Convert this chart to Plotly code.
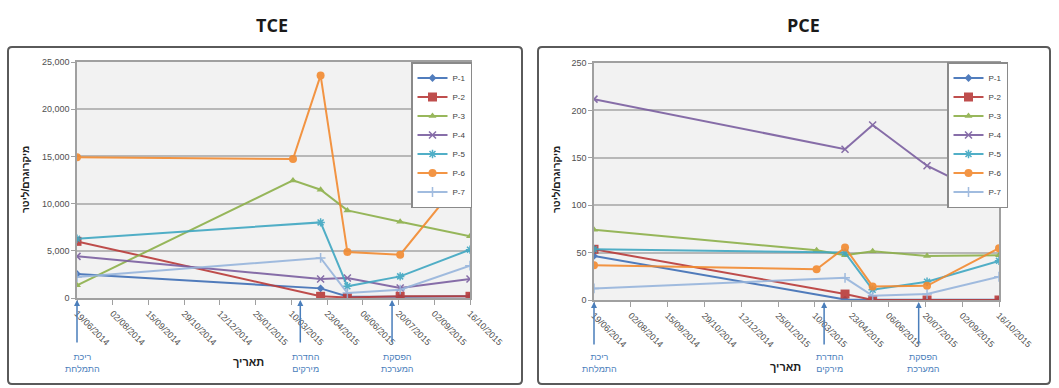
import plotly.graph_objects as go

# ---------------- data ----------------
dates = ["2014-06-19", "2015-03-12", "2015-04-15", "2015-05-18", "2015-07-22", "2015-10-16"]
series_names = ["P-1", "P-2", "P-3", "P-4", "P-5", "P-6", "P-7"]

tce_p1 = [2540, None, 1020, 150, 120, 180]
tce_p2 = [6000, None, 180, 60, 180, 180]
tce_p3 = [1340, 12460, 11470, 9280, 8080, 6530]
tce_p4 = [4410, None, 2010, 2120, 1060, 2010]
tce_p5 = [6280, None, 8010, 1240, 2290, 5120]
tce_p6 = [14900, 14720, 23580, 4870, 4590, 13700]
tce_p7 = [2220, None, 4240, 530, 880, 3420]

pce_p1 = [46.5, None, 0.5, 0.3, 0.3, 0.3]
pce_p2 = [53.5, None, 6.3, 0, 0, 0]
pce_p3 = [74.1, 52.5, 47.2, 51.4, 46.5, 47.2]
pce_p4 = [211.9, None, 159.1, 184.6, 141.6, 104.2]
pce_p5 = [53.5, None, 50.0, 10.8, 19.2, 41.3]
pce_p6 = [36.7, 32.5, 55.3, 14.3, 15.0, 54.6]
pce_p7 = [12.2, None, 23.4, 4.5, 6.3, 24.5]

tce_values = [tce_p1, tce_p2, tce_p3, tce_p4, tce_p5, tce_p6, tce_p7]
pce_values = [pce_p1, pce_p2, pce_p3, pce_p4, pce_p5, pce_p6, pce_p7]

event_dates = ["2014-06-19", "2015-03-21", "2015-07-12"]
event_labels = ["ריכת<br>התמלחת", "החדרת<br>מירקים", "הפסקת<br>המערכת"]

chart_titles = ["TCE", "PCE"]
y_title = "מיקרוגרם/ליטר"
x_title = "תאריך"

# ---------------- styles ----------------
colors = ["#3f6fb6", "#b93b3a", "#8db04a", "#7b5fa0", "#3fa7c2", "#f28a30", "#97b5dc"]
symbols = ["diamond", "square", "triangle-up", "x-thin", "asterisk-open", "circle", "cross-thin"]
msizes = [6, 9, 7, 7, 7, 8, 7]

W, H = 1059, 388
fig = go.Figure()

panels = [
    dict(vals=tce_values, xa="x", ya="y", legend="legend"),
    dict(vals=pce_values, xa="x2", ya="y2", legend="legend2"),
]

for p in panels:
    for i, name in enumerate(series_names):
        sym = symbols[i]
        marker = dict(symbol=sym, size=msizes[i], color=colors[i])
        if sym.endswith("-thin") or sym.endswith("-open"):
            marker["line"] = dict(color=colors[i], width=1.5)
        fig.add_trace(go.Scatter(
            x=dates, y=p["vals"][i], name=name, mode="lines+markers",
            connectgaps=True, xaxis=p["xa"], yaxis=p["ya"], legend=p["legend"],
            line=dict(color=colors[i], width=2), marker=marker, opacity=0.9,
        ))

def px_x(v):
    return v / W

def px_y(v):
    return 1 - v / H

DAY = 86400000
common_x = dict(
    type="date", range=["2014-06-19", "2015-10-16"], tick0="2014-06-19", dtick=44 * DAY,
    tickformat="%d/%m/%Y", tickangle=45, tickfont=dict(size=9, color="#505050", family="Liberation Sans"),
    ticks="outside", ticklen=5, tickcolor="#a0a0a0", showgrid=False, automargin=False,
    showline=True, linecolor="#a0a0a0", linewidth=1.5, mirror=True, zeroline=False,
)
common_y = dict(
    showgrid=True, gridcolor="#b8b8b8", gridwidth=1.5, ticks="outside", ticklen=4,
    tickcolor="#a0a0a0", tickfont=dict(size=9, color="#505050", family="Liberation Sans"),
    showline=True, linecolor="#a0a0a0", linewidth=1.5, mirror=True, zeroline=False, automargin=False,
)

legend_style = dict(xanchor="left", yanchor="top", bgcolor="white", bordercolor="#8a8a8a",
                    borderwidth=1.5, font=dict(size=8, color="#404040", family="Liberation Sans"),
                    itemwidth=30, tracegroupgap=0)

fig.update_layout(
    width=W, height=H, margin=dict(l=0, r=0, t=0, b=0, pad=0, autoexpand=False),
    paper_bgcolor="white", plot_bgcolor="#f2f2f2", showlegend=True,
    xaxis=dict(common_x, domain=[px_x(77), px_x(470)], anchor="y"),
    yaxis=dict(common_y, domain=[px_y(298), px_y(62)], range=[0, 25000], dtick=5000,
               tickformat=",", anchor="x"),
    xaxis2=dict(common_x, domain=[px_x(594), px_x(999)], anchor="y2"),
    yaxis2=dict(common_y, domain=[px_y(300), px_y(63)], range=[0, 250], dtick=50, anchor="x2"),
    legend=dict(legend_style, x=px_x(411), y=px_y(62)),
    legend2=dict(legend_style, x=px_x(947), y=px_y(62)),
)

# panel borders (rounded rectangles)
def rrect(x0, y0, x1, y1, r=4):
    X0, X1 = px_x(x0), px_x(x1)
    Y0, Y1 = px_y(y0), px_y(y1)
    rx, ry = r / W, r / H
    return (f"M {X0+rx},{Y0} L {X1-rx},{Y0} Q {X1},{Y0} {X1},{Y0-ry} "
            f"L {X1},{Y1+ry} Q {X1},{Y1} {X1-rx},{Y1} L {X0+rx},{Y1} "
            f"Q {X0},{Y1} {X0},{Y1+ry} L {X0},{Y0-ry} Q {X0},{Y0} {X0+rx},{Y0} Z")

for (x0, x1) in [(8, 522), (538, 1050)]:
    fig.add_shape(type="path", path=rrect(x0, 47, x1, 384), xref="paper", yref="paper",
                  line=dict(color="#5a5a5a", width=2), fillcolor="rgba(0,0,0,0)")

# titles
for cx, t in [(272, chart_titles[0]), (803, chart_titles[1])]:
    fig.add_annotation(x=px_x(cx), y=px_y(25), xref="paper", yref="paper", text=f"<b>{t}</b>",
                       showarrow=False, font=dict(size=18, color="#1a1a1a", family="Open Sans"),
                       xanchor="center", yanchor="middle")

# y titles
for cx in [25, 556]:
    fig.add_annotation(x=px_x(cx), y=px_y(180), xref="paper", yref="paper", text=f"<b>{y_title}</b>",
                       showarrow=False, textangle=-90, font=dict(size=10, color="#202020", family="Liberation Sans"),
                       xanchor="center", yanchor="middle")

# x titles
for cx, cy in [(248, 362), (785, 367)]:
    fig.add_annotation(x=px_x(cx), y=px_y(cy), xref="paper", yref="paper", text=f"<b>{x_title}</b>",
                       showarrow=False, font=dict(size=11, color="#202020", family="Liberation Sans"),
                       xanchor="center", yanchor="middle")

# event arrows and labels
for xa, axis_bottom in [("x", 300), ("x2", 302)]:
    for d, lab in zip(event_dates, event_labels):
        fig.add_annotation(x=d, y=px_y(axis_bottom), xref=xa, yref="paper", text="",
                           showarrow=True, ax=0, ay=44, arrowhead=2, arrowsize=0.8,
                           arrowwidth=1.5, arrowcolor="#4a7ebb")
        fig.add_annotation(x=d, y=px_y(363), xref=xa, yref="paper", text=lab, xshift=5,
                           showarrow=False, font=dict(size=9, color="#4a7ebb", family="Liberation Sans"),
                           xanchor="center", yanchor="middle", align="center")

fig.write_html("out.html", config={"displayModeBar": False},
               post_script="document.body.style.margin='0';document.body.style.overflow='hidden';")
